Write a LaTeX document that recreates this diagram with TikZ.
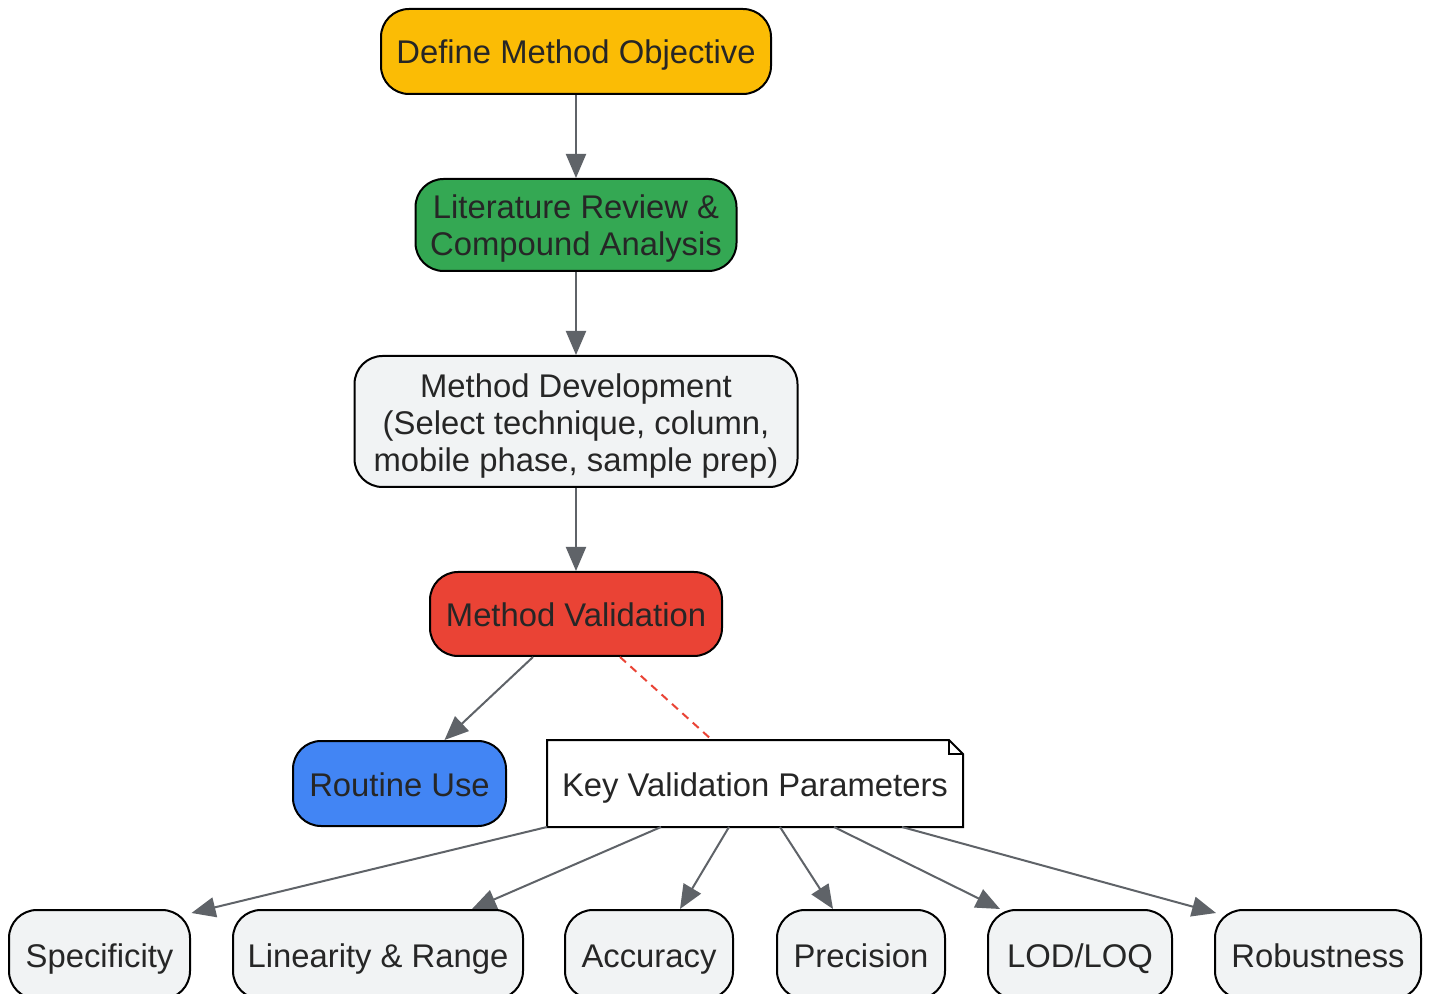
\documentclass[tikz,border=0pt]{standalone}
\usepackage{fontspec}
\setmainfont{Liberation Sans}
\usetikzlibrary{arrows.meta,calc}
\definecolor{objyellow}{HTML}{FBBC05}
\definecolor{litgreen}{HTML}{34A853}
\definecolor{valred}{HTML}{EA4335}
\definecolor{useblue}{HTML}{4285F4}
\definecolor{stepgray}{HTML}{F1F3F4}
\definecolor{arrowgray}{HTML}{5F6368}
\definecolor{txtgray}{HTML}{262626}
\begin{document}
\begin{tikzpicture}[x=0.5pt,y=-0.5pt,
  box/.style={draw=black,line width=1pt,rounded corners=14pt,align=center,text=txtgray,
    font=\fontsize{16.4}{18.5}\selectfont,inner sep=0pt,minimum height=42.5pt,
    text height=15.6pt,text depth=3.1pt},
  param/.style={box,fill=stepgray,minimum height=44.5pt},
  flow/.style={draw=arrowgray,line width=1pt,-{Triangle[length=12pt,width=10pt]}}]
\useasboundingbox[fill=white] (0,0) rectangle (1431,994);
\node [box,fill=objyellow,minimum width=195pt] (obj) at (576,51.5) {Define Method Objective};
\node [box,fill=litgreen,minimum width=160.5pt,minimum height=46pt,text height=34.1pt] (lit) at (576,225) {Literature Review \&\\Compound Analysis};
\node [box,fill=stepgray,minimum width=221.5pt,minimum height=65.5pt,text height=53.6pt] (dev) at (576,421.5) {Method Development\\(Select technique, column,\\mobile phase, sample prep)};
\node [box,fill=valred,minimum width=146pt,minimum height=42pt] (val) at (576,614) {Method Validation};
\node [box,fill=useblue,minimum width=106.5pt] (use) at (399.5,783.5) {Routine Use};
\node [box,draw=none,rounded corners=0pt,minimum width=207pt] (kvp) at (755,783.5) {Key Validation Parameters};
\draw [line width=1pt,line join=miter] (kvp.south west) -- (kvp.north west) -- ($(kvp.north east)+(-14,0)$)
  -- ($(kvp.north east)+(0,14)$) -- (kvp.south east) -- cycle;
\draw [line width=1pt] ($(kvp.north east)+(-14,0)$) -- ($(kvp.north east)+(-14,14)$) -- ($(kvp.north east)+(0,14)$);
\node [param,minimum width=90.5pt] (spec) at (99.5,954.5) {Specificity};
\node [param,minimum width=145pt] (lin) at (378,954.5) {Linearity \& Range};
\node [param,minimum width=84pt] (acc) at (649,954.5) {Accuracy};
\node [param,minimum width=84pt] (prec) at (861,954.5) {Precision};
\node [param,minimum width=92pt] (lod) at (1080,954.5) {LOD/LOQ};
\node [param,minimum width=103pt] (rob) at (1318,954.5) {Robustness};
\draw [flow] (obj) -- (lit);
\draw [flow] (lit) -- (dev);
\draw [flow] (dev) -- (val);
\draw [flow] ($(val.south)+(-43,0)$) -- ($(use.north)+(45,0)$);
\draw [valred,line width=1pt,dash pattern=on 4pt off 3pt] ($(val.south)+(44,0)$) -- ($(kvp.north)+(-43,0)$);
\draw [flow] (kvp.south west) -- ($(spec.north)+(92,4)$);
\draw [flow] ($(kvp.south west)+(114,0)$) -- ($(lin.north)+(94,0)$);
\draw [flow] ($(kvp.south west)+(182,0)$) -- ($(acc.north)+(31,0)$);
\draw [flow] ($(kvp.south west)+(233,0)$) -- ($(prec.north)+(-28,0)$);
\draw [flow] ($(kvp.south west)+(287,0)$) -- ($(lod.north)+(-80,0)$);
\draw [flow] ($(kvp.south west)+(355,0)$) -- ($(rob.north)+(-102,4)$);
\end{tikzpicture}
\end{document}
